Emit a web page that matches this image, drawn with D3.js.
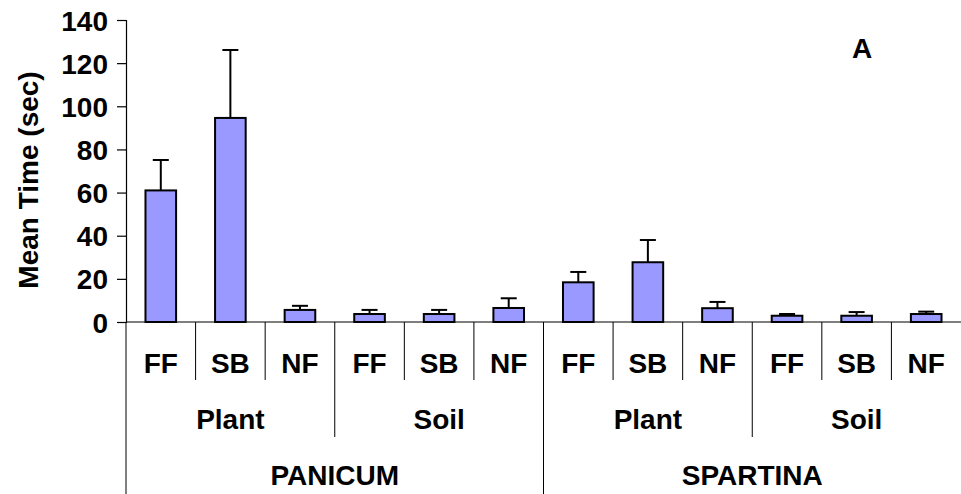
<!DOCTYPE html>
<html>
<head>
<meta charset="utf-8">
<script src="https://cdn.jsdelivr.net/npm/d3@7"></script>
<style>
  body { margin: 0; background: #fff; }
  text { font-family: Arial, "Liberation Sans", sans-serif; font-weight: bold; fill: #000; }
</style>
</head>
<body>
<div id="chart"></div>
<script>
// chart values
var species = ["PANICUM", "SPARTINA"];
var substrates = ["Plant", "Soil"];
var treatments = ["FF", "SB", "NF"];
var meanTime = [61, 94.6, 5.6, 3.7, 3.7, 6.5, 18.4, 27.7, 6.4, 2.9, 2.9, 3.7];
var stdErr = [14.1, 31.5, 1.9, 1.9, 1.9, 4.5, 4.8, 10.3, 2.9, 0.8, 1.7, 1.1];
var yTicks = [0, 20, 40, 60, 80, 100, 120, 140];

var width = 961;
var height = 494;
var fontSize = "28px";

// build the flat list of bars
var bars = [];
species.forEach(function (sp) {
    substrates.forEach(function (sub) {
        treatments.forEach(function (tr) {
            var i = bars.length;
            bars.push({ key: sp + "|" + sub + "|" + tr, species: sp, substrate: sub, treatment: tr,
                        value: meanTime[i], err: stdErr[i] });
        });
    });
});

var svg = d3.select("#chart")
    .append("svg")
    .attr("width", width)
    .attr("height", height);

var x = d3.scaleBand()
    .domain(bars.map(function (d) { return d.key; }))
    .range([126, 961])
    .paddingInner(0)
    .paddingOuter(0);

var y = d3.scaleLinear()
    .domain([0, 140])
    .range([322, 20]);

// y axis
var yAxis = d3.axisLeft(y)
    .tickValues(yTicks)
    .tickSize(9)
    .tickPadding(9);

var gy = svg.append("g")
    .attr("transform", "translate(126,0)")
    .call(yAxis);
gy.select(".domain").attr("stroke", "#000").attr("stroke-width", 1.2);
gy.selectAll(".tick line").attr("stroke", "#000").attr("stroke-width", 1.2);
gy.selectAll(".tick text")
    .style("font-size", fontSize)
    .attr("dy", "0.36em");

svg.append("text")
    .attr("transform", "translate(38,180) rotate(-90)")
    .attr("text-anchor", "middle")
    .style("font-size", fontSize)
    .text("Mean Time (sec)");

// bars
var bw = x.bandwidth() * 0.44;

svg.selectAll("rect.bar")
    .data(bars)
    .enter()
    .append("rect")
    .attr("class", "bar")
    .attr("x", function (d) { return x(d.key) + (x.bandwidth() - bw) / 2; })
    .attr("y", function (d) { return y(d.value); })
    .attr("width", bw)
    .attr("height", function (d) { return y(0) - y(d.value); })
    .attr("fill", "#9999ff")
    .attr("stroke", "#000")
    .attr("stroke-width", 2);

// error bars (upper only)
var eb = svg.selectAll("g.err")
    .data(bars)
    .enter()
    .append("g")
    .attr("class", "err")
    .attr("transform", function (d) { return "translate(" + (x(d.key) + x.bandwidth() / 2) + ",0)"; });

eb.append("line")
    .attr("y1", function (d) { return y(d.value); })
    .attr("y2", function (d) { return y(d.value + d.err); })
    .attr("stroke", "#000")
    .attr("stroke-width", 2);

eb.append("line")
    .attr("x1", -8)
    .attr("x2", 8)
    .attr("y1", function (d) { return y(d.value + d.err); })
    .attr("y2", function (d) { return y(d.value + d.err); })
    .attr("stroke", "#000")
    .attr("stroke-width", 2);

// x axis line
svg.append("line")
    .attr("x1", 126).attr("x2", 961)
    .attr("y1", y(0)).attr("y2", y(0))
    .attr("stroke", "#000")
    .attr("stroke-width", 1.2);

// category separators and labels, three levels
var bandW = x.bandwidth();
var nSub = treatments.length;
var nSp = substrates.length * treatments.length;

bars.forEach(function (d, i) {
    var left = x(d.key);
    var bottom = 380;
    if (i % nSp === 0) bottom = 494;
    else if (i % nSub === 0) bottom = 437;
    svg.append("line")
        .attr("x1", left).attr("x2", left)
        .attr("y1", y(0)).attr("y2", bottom)
        .attr("stroke", "#000")
        .attr("stroke-width", 1);
});

svg.selectAll("text.tr")
    .data(bars)
    .enter()
    .append("text")
    .attr("class", "tr")
    .attr("x", function (d) { return x(d.key) + bandW / 2; })
    .attr("y", 373)
    .attr("text-anchor", "middle")
    .style("font-size", fontSize)
    .text(function (d) { return d.treatment; });

var subGroups = [];
species.forEach(function (sp) {
    substrates.forEach(function (sub) {
        subGroups.push({ species: sp, substrate: sub, first: sp + "|" + sub + "|" + treatments[0] });
    });
});

svg.selectAll("text.sub")
    .data(subGroups)
    .enter()
    .append("text")
    .attr("class", "sub")
    .attr("x", function (d) { return x(d.first) + bandW * nSub / 2; })
    .attr("y", 429)
    .attr("text-anchor", "middle")
    .style("font-size", fontSize)
    .text(function (d) { return d.substrate; });

svg.selectAll("text.sp")
    .data(species)
    .enter()
    .append("text")
    .attr("class", "sp")
    .attr("x", function (d) { return x(d + "|" + substrates[0] + "|" + treatments[0]) + bandW * nSp / 2; })
    .attr("y", 485)
    .attr("text-anchor", "middle")
    .style("font-size", fontSize)
    .text(function (d) { return d; });

// panel letter
svg.append("text")
    .attr("x", 862)
    .attr("y", 58)
    .attr("text-anchor", "middle")
    .style("font-size", fontSize)
    .text("A");
</script>
</body>
</html>
